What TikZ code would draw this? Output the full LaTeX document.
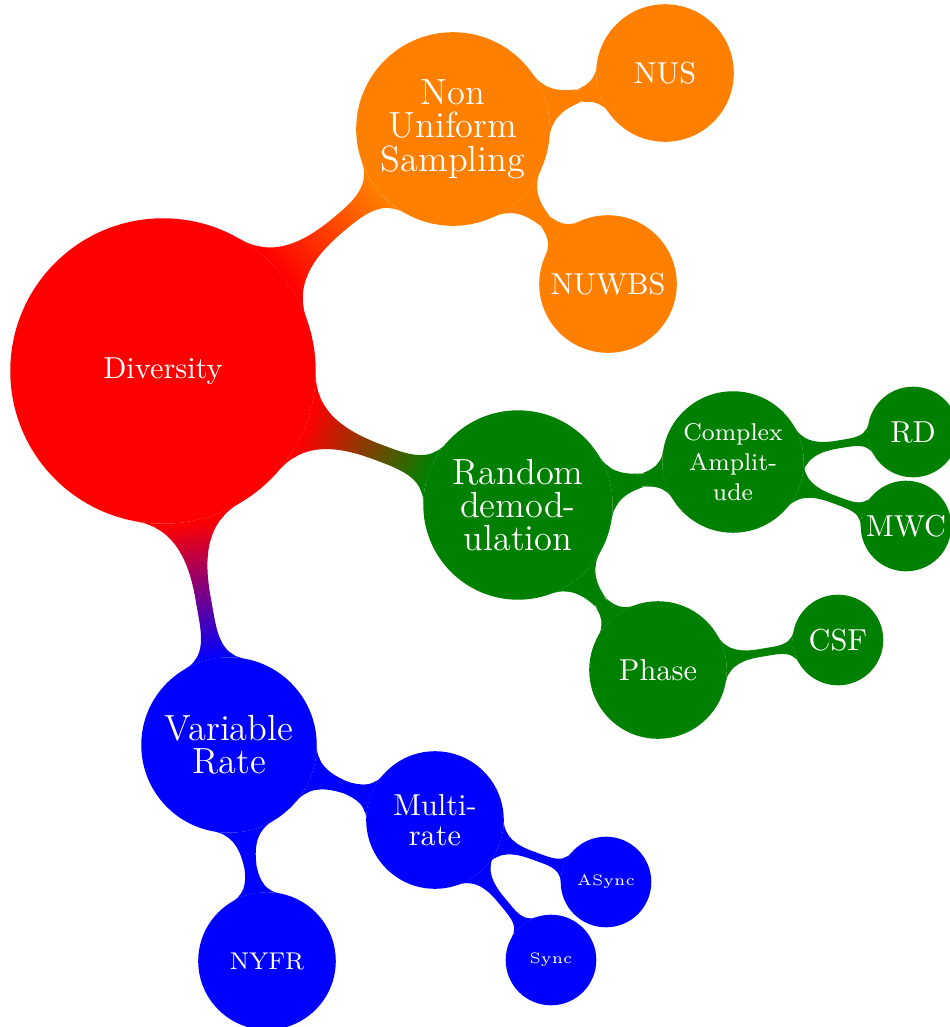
\documentclass[tikz,border=0pt]{standalone}
\usetikzlibrary{mindmap,backgrounds}
\definecolor{cgreen}{RGB}{0,128,0}
\definecolor{corange}{RGB}{255,128,0}
\definecolor{cblue}{RGB}{0,0,255}
\definecolor{cred}{RGB}{255,0,0}
\tikzset{
  cpt/.style={circle, inner sep=0pt, align=center, text=white, line width=0.5pt},
  rootc/.style={cpt, minimum size=100.3pt, font=\fontsize{10}{12}\selectfont},
  lone/.style={cpt, font=\fontsize{12}{11}\selectfont},
  ltwo/.style={cpt, minimum size=44.9pt, font=\fontsize{10}{9.7}\selectfont},
  lthree/.style={cpt, minimum size=29.4pt, font=\fontsize{10}{10}\selectfont},
  barone/.style={line width=4.8pt},
  bartwo/.style={line width=3.6pt},
  barthree/.style={line width=0.6pt}
}
\begin{document}
\begin{tikzpicture}[x=0.33pt,y=-0.33pt]
\useasboundingbox (0,0) rectangle (950,1027);
% root
\node[rootc, fill=cred, draw=cred] (div) at (163,371) {Diversity};
% level 1
\node[lone, fill=corange, draw=corange, minimum size=63.4pt] (nusm) at (453,129) {Non\\Uniform\\Sampling};
\node[lone, fill=cgreen, draw=cgreen, minimum size=62pt] (rdem) at (518,505) {Random\\demod-\\ulation};
\node[lone, fill=cblue, draw=cblue, minimum size=57.4pt] (vr) at (229,745) {Variable\\Rate};
% level 2
\node[ltwo, fill=corange, draw=corange] (nus) at (665,73) {NUS};
\node[ltwo, fill=corange, draw=corange] (nuwbs) at (608,284) {NUWBS};
\node[ltwo, fill=cgreen, draw=cgreen, minimum size=46.2pt, font=\fontsize{8}{10}\selectfont] (ca) at (733,462) {Complex\\Amplit-\\ude};
\node[ltwo, fill=cgreen, draw=cgreen] (ph) at (658,670) {Phase};
\node[ltwo, fill=cblue, draw=cblue] (mr) at (435,820) {Multi-\\rate};
\node[ltwo, fill=cblue, draw=cblue, font=\fontsize{8}{10}\selectfont] (nyfr) at (267,961) {NYFR};
% level 3
\node[lthree, fill=cgreen, draw=cgreen] (rd) at (913,432) {RD};
\node[lthree, fill=cgreen, draw=cgreen] (mwc) at (906,526) {MWC};
\node[lthree, fill=cgreen, draw=cgreen] (csf) at (838,640) {CSF};
\node[lthree, fill=cblue, draw=cblue, font=\fontsize{5}{6}\selectfont] (as) at (606,882) {ASync};
\node[lthree, fill=cblue, draw=cblue, font=\fontsize{5}{6}\selectfont] (sy) at (551,960) {Sync};
\begin{pgfonlayer}{background}
\path[barone] (div) to[circle connection bar switch color=from (cred) to (corange)] (nusm);
\path[barone] (div) to[circle connection bar switch color=from (cred) to (cgreen)] (rdem);
\path[barone] (div) to[circle connection bar switch color=from (cred) to (cblue)] (vr);
\path[bartwo] (nusm) to[circle connection bar switch color=from (corange) to (corange)] (nus);
\path[bartwo] (nusm) to[circle connection bar switch color=from (corange) to (corange)] (nuwbs);
\path[bartwo] (rdem) to[circle connection bar switch color=from (cgreen) to (cgreen)] (ca);
\path[bartwo] (rdem) to[circle connection bar switch color=from (cgreen) to (cgreen)] (ph);
\path[bartwo] (vr) to[circle connection bar switch color=from (cblue) to (cblue)] (mr);
\path[bartwo] (vr) to[circle connection bar switch color=from (cblue) to (cblue)] (nyfr);
\path[barthree] (ca) to[circle connection bar switch color=from (cgreen) to (cgreen)] (rd);
\path[barthree] (ca) to[circle connection bar switch color=from (cgreen) to (cgreen)] (mwc);
\path[barthree] (ph) to[circle connection bar switch color=from (cgreen) to (cgreen)] (csf);
\path[barthree] (mr) to[circle connection bar switch color=from (cblue) to (cblue)] (as);
\path[barthree] (mr) to[circle connection bar switch color=from (cblue) to (cblue)] (sy);
\end{pgfonlayer}
\end{tikzpicture}
\end{document}
